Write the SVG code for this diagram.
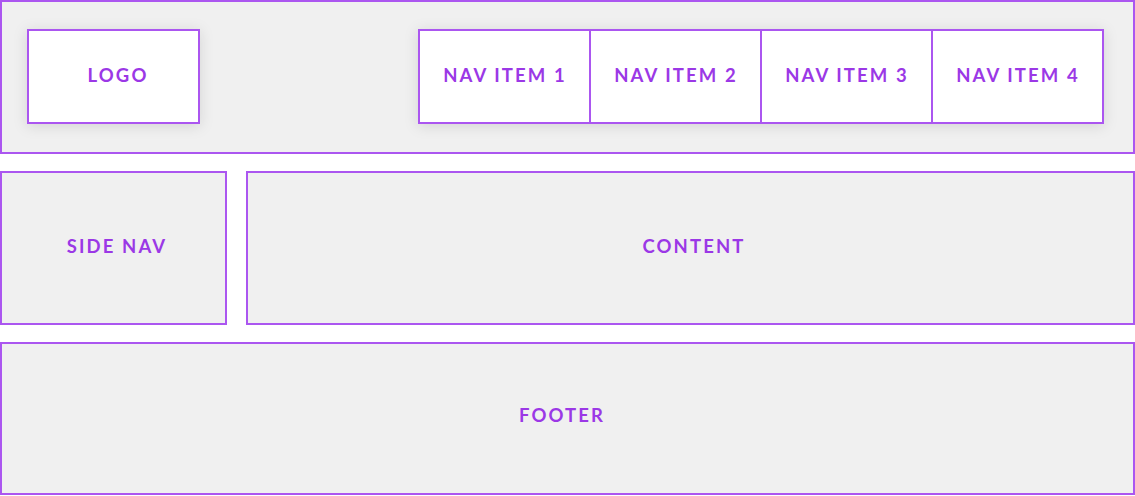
<svg xmlns="http://www.w3.org/2000/svg" width="1135" height="496" viewBox="0 0 1135 496">
  <defs>
    <filter id="shadow" x="-30%" y="-50%" width="160%" height="200%">
      <feDropShadow dx="0" dy="2" stdDeviation="7" flood-color="#000" flood-opacity="0.12"/>
    </filter>
    <style>
      .region { fill: #f0f0f0; stroke: #ab56f0; stroke-width: 2; }
      .box { fill: #ffffff; stroke: #ab56f0; stroke-width: 2; }
      .div { stroke: #ab56f0; stroke-width: 2; }
      .lbl { font-family: Lato, "Open Sans", sans-serif; font-weight: 700; font-size: 18.5px; letter-spacing: 2.1px; fill: #9b38e6; text-anchor: middle; dominant-baseline: central; }
    </style>
  </defs>
  <rect width="1135" height="496" fill="#ffffff"/>
  <g id="header">
    <rect class="region" x="1" y="1" width="1133" height="152"/>
  </g>
  <g id="logo">
    <rect class="box" x="28" y="30" width="171" height="93" filter="url(#shadow)"/>
    <text class="lbl" x="118" y="75">LOGO</text>
  </g>
  <g id="nav">
    <rect class="box" x="419" y="30" width="684" height="93" filter="url(#shadow)"/>
    <line class="div" x1="590" y1="30" x2="590" y2="123"/>
    <line class="div" x1="761" y1="30" x2="761" y2="123"/>
    <line class="div" x1="932" y1="30" x2="932" y2="123"/>
  </g>
  <g id="nav-item-1"><text class="lbl" x="505" y="75">NAV ITEM 1</text></g>
  <g id="nav-item-2"><text class="lbl" x="676" y="75">NAV ITEM 2</text></g>
  <g id="nav-item-3"><text class="lbl" x="847" y="75">NAV ITEM 3</text></g>
  <g id="nav-item-4"><text class="lbl" x="1018" y="75">NAV ITEM 4</text></g>
  <g id="side-nav">
    <rect class="region" x="1" y="172" width="225" height="152"/>
    <text class="lbl" x="117" y="246">SIDE NAV</text>
  </g>
  <g id="content">
    <rect class="region" x="247" y="172" width="887" height="152"/>
    <text class="lbl" x="694" y="246">CONTENT</text>
  </g>
  <g id="footer">
    <rect class="region" x="1" y="343" width="1133" height="151"/>
    <text class="lbl" x="562" y="415">FOOTER</text>
  </g>
  <g id="connectors"/>
</svg>
